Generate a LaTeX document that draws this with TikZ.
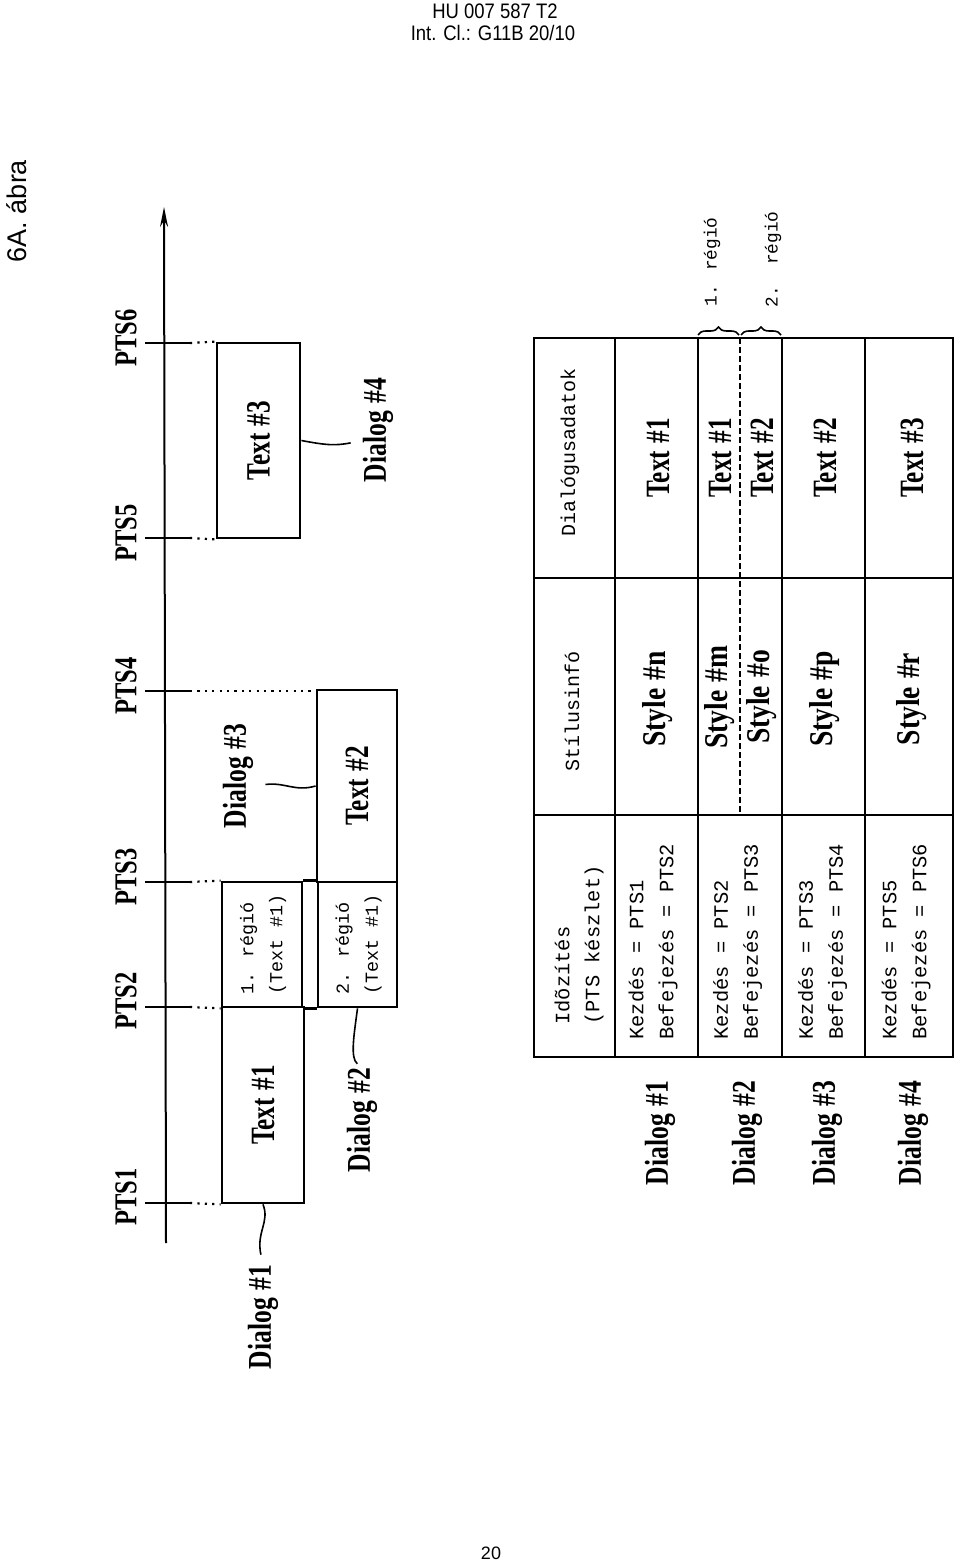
\documentclass[tikz,border=0pt]{standalone}
\usepackage{graphicx}
\usepackage{fontspec}
\setmainfont{Liberation Serif}
\newfontfamily\hdrfont{Liberation Sans}
\newfontfamily\labfont{Liberation Serif}
\newfontfamily\monofont{Liberation Mono}
\usetikzlibrary{decorations.pathreplacing,arrows.meta}
\newcommand\gapw{\hspace{0.3em}}
\newcommand\LabText[1]{\scalebox{0.74}[1]{\labfont\bfseries\fontsize{17}{20}\selectfont #1}}
\newcommand\LabDialog[1]{\scalebox{0.77}[1]{\labfont\bfseries\fontsize{16.6}{20}\selectfont #1}}
\newcommand\LabPTS[1]{\scalebox{0.77}[1]{\labfont\bfseries\fontsize{15.9}{18}\selectfont #1}}
\newcommand\LabStyle[1]{\scalebox{0.83}[1]{\labfont\bfseries\fontsize{16.6}{20}\selectfont #1}}
\newcommand\TblMono[1]{\monofont\fontsize{10}{15}\selectfont #1}
\newcommand\RegTwo[2]{\monofont\fontsize{9.2}{14.5}\selectfont\begin{tabular}{@{}l@{}}#1\\#2\end{tabular}}
\begin{document}
\begin{tikzpicture}[x=0.5pt,y=-0.5pt,
  tbox/.style={draw, line width=1.4pt, inner sep=0pt},
  lbl/.style={rotate=90, inner sep=0pt},
  leader/.style={line width=0.8pt},
  tickline/.style={line width=1pt},
  dotline/.style={line width=1.1pt, dash pattern=on 1.1pt off 2.6pt},
  gridline/.style={line width=1pt},
  mono2/.style={lbl, anchor=west, align=left, font=\monofont\fontsize{10.2}{15}\selectfont}]
\useasboundingbox (0,0) rectangle (960,1561);

% header / page
\node[inner sep=0pt] (hdr1) at (495,11) {\hdrfont\fontsize{10.5}{12}\selectfont\scalebox{0.88}[1]{HU 007 587 T2}};
\node[inner sep=0pt] (hdr2) at (493,33) {\hdrfont\fontsize{10.5}{12}\selectfont\scalebox{0.88}[1]{Int. Cl.: G11B 20/10}};
\node[lbl] (fig) at (17,211) {\hdrfont\fontsize{13.5}{16}\selectfont 6A. ábra};
\node[inner sep=0pt] (pg) at (491,1553) {\hdrfont\fontsize{9}{10}\selectfont 20};

% time axis
\coordinate (ax0) at (166,1243);
\coordinate (ax1) at (164,207);
\draw[line width=1pt, -{Stealth[length=10pt,width=4pt]}] (ax0) -- (ax1);

% boxes on the time line
\node[tbox, minimum width=41.5pt, minimum height=97.5pt] (t3) at (258.5,440.5) {\rotatebox{90}{\LabText{Text\gapw\#3}}};
\node[tbox, minimum width=40pt, minimum height=96pt] (t2) at (357,786) {\rotatebox{90}{\LabText{Text\gapw\#2}}};
\node[tbox, minimum width=40pt, minimum height=62.5pt] (r1) at (262,944.5) {\rotatebox{90}{\RegTwo{1. régió}{(Text \#1)}}};
\node[tbox, minimum width=39.5pt, minimum height=62.5pt] (r2) at (357.5,944.5) {\rotatebox{90}{\RegTwo{2. régió}{(Text \#1)}}};
\node[tbox, minimum width=41pt, minimum height=98pt] (t1) at (263,1105) {\rotatebox{90}{\LabText{Text\gapw\#1}}};
\draw[line width=1.4pt] (r1.north east) -- (r2.north west) (r1.south east) -- (r2.south west);

% PTS ticks
\coordinate (p6) at (145,343);
\coordinate (p5) at (145,538);
\coordinate (p4) at (145,691);
\coordinate (p3) at (145,882);
\coordinate (p2) at (145,1007);
\coordinate (p1) at (145,1203);
\draw[tickline] (p6) -- ++(45,0) coordinate (p6d);
\draw[tickline] (p5) -- ++(45,0) coordinate (p5d);
\draw[tickline] (p4) -- ++(45,0) coordinate (p4d);
\draw[tickline] (p3) -- ++(45,0) coordinate (p3d);
\draw[tickline] (p2) -- ++(45,0) coordinate (p2d);
\draw[tickline] (p1) -- ++(45,0) coordinate (p1d);
\draw[dotline] (p6d) -- (t3.north west);
\draw[dotline] (p5d) -- (t3.south west);
\draw[dotline] (p4d) -- (p4d -| t2.west);
\draw[dotline] (p3d) -- (r1.north west);
\draw[dotline] (p2d) -- (r1.south west);
\draw[dotline] (p1d) -- (t1.south west);

% PTS labels
\node[lbl] (l6) at (126,338) {\LabPTS{PTS6}};
\node[lbl] (l5) at (126,533) {\LabPTS{PTS5}};
\node[lbl] (l4) at (126,686) {\LabPTS{PTS4}};
\node[lbl] (l3) at (126,877) {\LabPTS{PTS3}};
\node[lbl] (l2) at (126,1001) {\LabPTS{PTS2}};
\node[lbl] (l1) at (126,1197) {\LabPTS{PTS1}};

% dialog labels on the time line
\node[lbl] (d1) at (263,1317) {\LabDialog{Dialog\gapw\#1}};
\node[lbl] (d2) at (362,1120) {\LabDialog{Dialog\gapw\#2}};
\node[lbl] (d3) at (238,776) {\LabDialog{Dialog\gapw\#3}};
\node[lbl] (d4) at (378,430) {\LabDialog{Dialog\gapw\#4}};
\draw[leader, shorten >=5pt] (t1.south) .. controls (270,1222) and (256,1232) .. (d1.east);
\draw[leader, shorten >=3pt] (r2.south) .. controls (354,1035) and (350,1058) .. (d2.east);
\draw[leader, shorten <=6pt] (d3.south |- t2.west) .. controls (285,782) and (295,792) .. (t2.west);
\draw[leader, shorten >=6pt] (t3.east) .. controls (325,445) and (335,446) .. (d4.north |- t3.east);

% table grid
\draw[gridline, line width=1.2pt] (534,338) rectangle (953,1057);
\foreach \xx in {615,698,782,865} \draw[gridline] (\xx,338) -- (\xx,1057);
\foreach \yy in {578,815} \draw[gridline] (534,\yy) -- (953,\yy);
\draw[gridline, dash pattern=on 3pt off 1.5pt] (740,338) -- (740,815);

% braces
\draw[decorate, decoration={brace, amplitude=4pt}, line width=0.8pt] (698,335) -- (739,335);
\draw[decorate, decoration={brace, amplitude=4pt}, line width=0.8pt] (741,335) -- (781,335);
\node[lbl, anchor=west] (b1) at (712,307) {\monofont\fontsize{8.9}{10}\selectfont 1. régió};
\node[lbl, anchor=west] (b2) at (773,308) {\monofont\fontsize{8.9}{10}\selectfont 2.\ \ régió};

% table header column
\node[lbl] (hD) at (570,452) {\TblMono{Dialógusadatok}};
\node[lbl] (hS) at (572,711) {\TblMono{Stílusinfó}};
\node[mono2] (hI) at (579,1025) {Idõzítés\\(PTS készlet)};

% dialog data
\node[lbl] (x1) at (658,458) {\LabText{Text\gapw\#1}};
\node[lbl] (x2a) at (720,458) {\LabText{Text\gapw\#1}};
\node[lbl] (x2b) at (762,458) {\LabText{Text\gapw\#2}};
\node[lbl] (x3) at (825,458) {\LabText{Text\gapw\#2}};
\node[lbl] (x4) at (912,458) {\LabText{Text\gapw\#3}};

% style info
\node[lbl] (s1) at (658,699) {\LabStyle{Style\gapw\#n}};
\node[lbl] (s2a) at (720,697) {\LabStyle{Style\gapw\#m}};
\node[lbl] (s2b) at (762,697) {\LabStyle{Style\gapw\#o}};
\node[lbl] (s3) at (825,699) {\LabStyle{Style\gapw\#p}};
\node[lbl] (s4) at (912,699) {\LabStyle{Style\gapw\#r}};

% timing
\node[mono2] (k1) at (653,1040) {Kezdés = PTS1\\Befejezés = PTS2};
\node[mono2] (k2) at (737.5,1040) {Kezdés = PTS2\\Befejezés = PTS3};
\node[mono2] (k3) at (822.5,1040) {Kezdés = PTS3\\Befejezés = PTS4};
\node[mono2] (k4) at (906,1040) {Kezdés = PTS5\\Befejezés = PTS6};

% row labels
\node[lbl] (D1) at (660,1133) {\LabDialog{Dialog\gapw\#1}};
\node[lbl] (D2) at (747,1133) {\LabDialog{Dialog\gapw\#2}};
\node[lbl] (D3) at (827,1133) {\LabDialog{Dialog\gapw\#3}};
\node[lbl] (D4) at (913,1133) {\LabDialog{Dialog\gapw\#4}};
\end{tikzpicture}
\end{document}
